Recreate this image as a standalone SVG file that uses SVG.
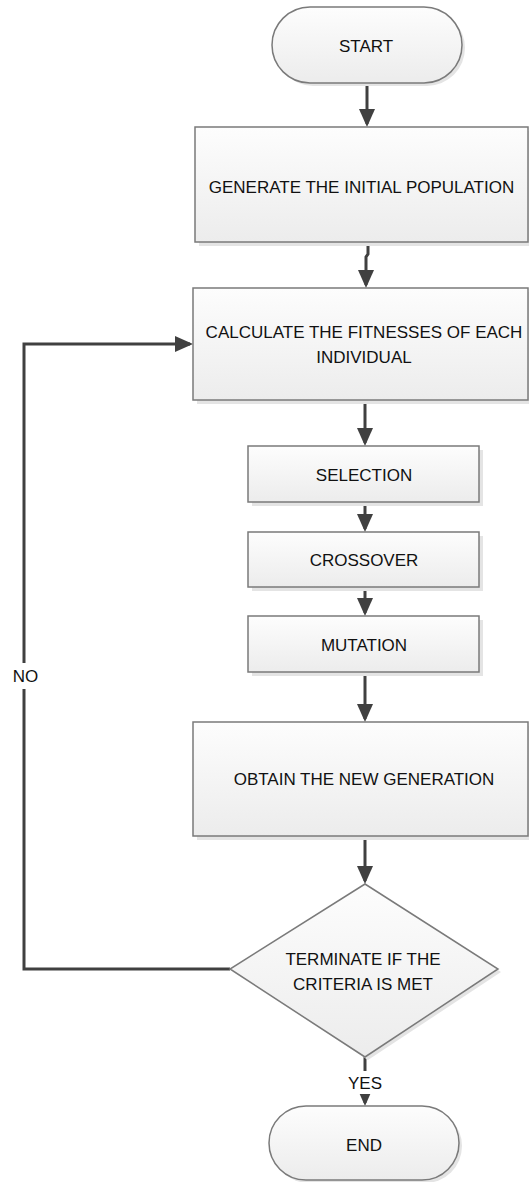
<svg xmlns="http://www.w3.org/2000/svg" width="529" height="1182" viewBox="0 0 529 1182">
  <style>
    .shape { fill: url(#boxFill); stroke: #7a7a7a; stroke-width: 1.5; }
    .shadow { fill: #e4e4e4; stroke: none; }
    .label { font-family: "Liberation Sans", Arial, sans-serif; font-size: 17px; fill: #111111; text-anchor: middle; }
    .conn { fill: none; stroke: #404040; stroke-width: 3; marker-end: url(#arrow); }
    .mask { fill: #ffffff; stroke: none; }
  </style>
  <defs>
    <linearGradient id="boxFill" x1="0" y1="0" x2="0" y2="1">
      <stop offset="0" stop-color="#fdfdfd"/>
      <stop offset="1" stop-color="#ececec"/>
    </linearGradient>
    <marker id="arrow" markerUnits="userSpaceOnUse" viewBox="0 0 18 16" markerWidth="18" markerHeight="16" refX="15" refY="8" orient="auto">
      <path d="M0,0 L18,8 L0,16 Z" fill="#404040"/>
    </marker>
  </defs>

  <rect width="529" height="1182" fill="#ffffff"/>

  <!-- connectors -->
  <g id="connectors">
    <path class="conn" d="M367,83 V124"/>
    <path class="conn" d="M368,242 V254 L366,257 V285"/>
    <path class="conn" d="M365,400 V443"/>
    <path class="conn" d="M365,502 V529"/>
    <path class="conn" d="M365,587 V613"/>
    <path class="conn" d="M365,672 V719"/>
    <path class="conn" d="M365,836 V881"/>
    <path class="conn" d="M365,1057 V1103"/>
    <path class="conn" d="M230,969 H24 V344 H190"/>
  </g>

  <!-- nodes -->
  <g id="start">
    <rect class="shadow" x="275" y="10" width="190" height="76" rx="38"/>
    <rect class="shape" x="272" y="7" width="190" height="76" rx="38"/>
    <text class="label" x="366" y="52">START</text>
  </g>

  <g id="generate">
    <rect class="shadow" x="199" y="131" width="333" height="115"/>
    <rect class="shape" x="195" y="127" width="333" height="115"/>
    <text class="label" x="361.5" y="193">GENERATE THE INITIAL POPULATION</text>
  </g>

  <g id="fitness">
    <rect class="shadow" x="197" y="292" width="335" height="112"/>
    <rect class="shape" x="193" y="288" width="335" height="112"/>
    <text class="label" x="364" y="338">CALCULATE THE FITNESSES OF EACH</text>
    <text class="label" x="364" y="363">INDIVIDUAL</text>
  </g>

  <g id="selection">
    <rect class="shadow" x="252" y="450" width="231" height="56"/>
    <rect class="shape" x="248" y="446" width="231" height="56"/>
    <text class="label" x="364" y="481">SELECTION</text>
  </g>

  <g id="crossover">
    <rect class="shadow" x="252" y="536" width="231" height="55"/>
    <rect class="shape" x="248" y="532" width="231" height="55"/>
    <text class="label" x="364" y="566">CROSSOVER</text>
  </g>

  <g id="mutation">
    <rect class="shadow" x="252" y="620" width="231" height="56"/>
    <rect class="shape" x="248" y="616" width="231" height="56"/>
    <text class="label" x="364" y="651">MUTATION</text>
  </g>

  <g id="new-generation">
    <rect class="shadow" x="197" y="726" width="335" height="114"/>
    <rect class="shape" x="193" y="722" width="335" height="114"/>
    <text class="label" x="364" y="785">OBTAIN THE NEW GENERATION</text>
  </g>

  <g id="terminate">
    <polygon class="shadow" points="368,887 501,972 368,1060 233,972"/>
    <polygon class="shape" points="365,884 498,969 365,1057 230,969"/>
    <text class="label" x="363" y="965">TERMINATE IF THE</text>
    <text class="label" x="363" y="990">CRITERIA IS MET</text>
  </g>

  <g id="end">
    <rect class="shadow" x="272" y="1109" width="190" height="74" rx="37"/>
    <rect class="shape" x="269" y="1106" width="190" height="74" rx="37"/>
    <text class="label" x="364" y="1151">END</text>
  </g>

  <!-- connector labels -->
  <g id="connector-labels">
    <rect class="mask" x="11" y="663" width="29" height="26"/>
    <text class="label" x="25.5" y="682">NO</text>
    <rect class="mask" x="348" y="1071" width="34" height="23"/>
    <text class="label" x="365" y="1089">YES</text>
  </g>
</svg>
